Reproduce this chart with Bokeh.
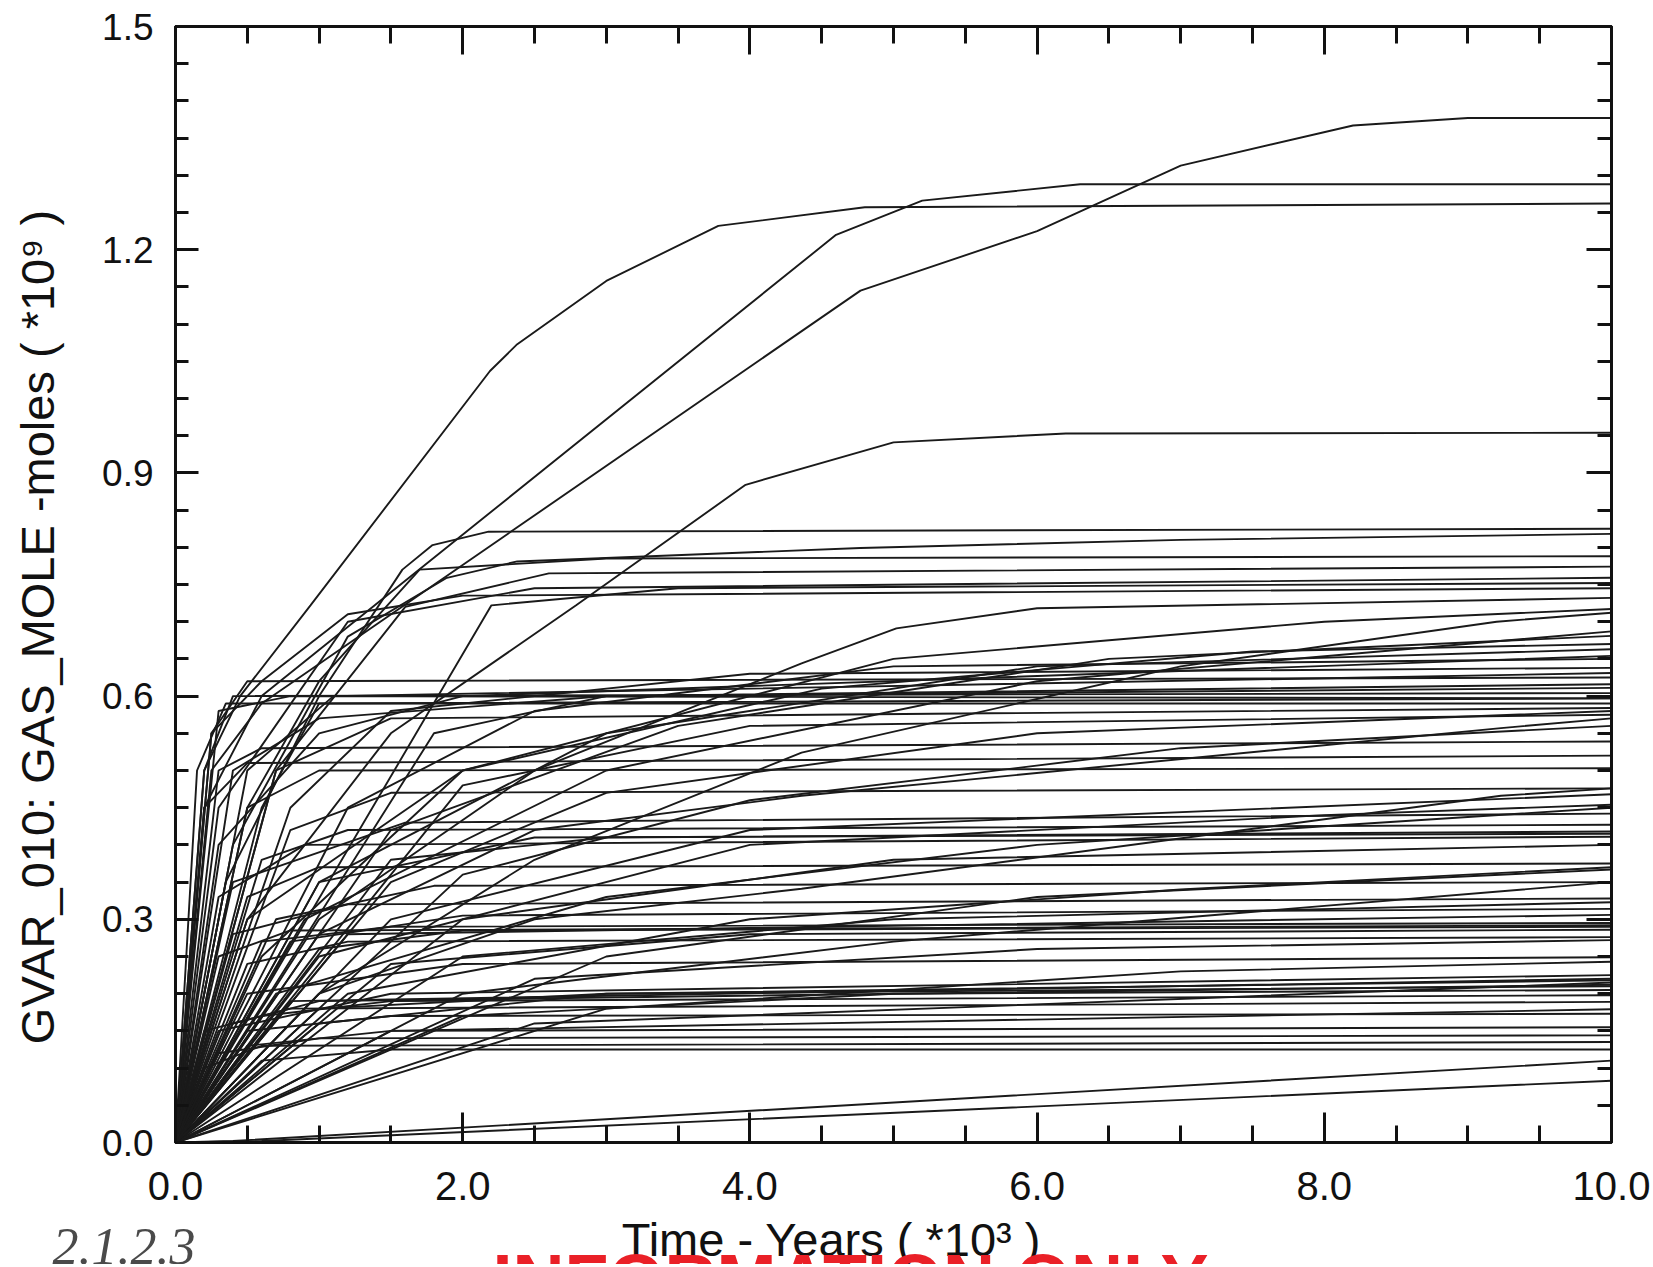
import math
from bokeh.plotting import figure
from bokeh.layouts import column
from bokeh.models import Range1d, FixedTicker, PrintfTickFormatter, LinearAxis, Label
from bokeh.embed import file_html
from bokeh.resources import INLINE

# ---- axes -----------------------------------------------------------------
x_major = [0.0, 2.0, 4.0, 6.0, 8.0, 10.0]
x_minor = [0.5, 1.0, 1.5, 2.5, 3.0, 3.5, 4.5, 5.0, 5.5, 6.5, 7.0, 7.5, 8.5, 9.0, 9.5]
y_major = [0.0, 0.3, 0.6, 0.9, 1.2, 1.5]
y_minor = [0.05, 0.10, 0.15, 0.20, 0.25, 0.35, 0.40, 0.45, 0.50, 0.55,
           0.65, 0.70, 0.75, 0.80, 0.85, 0.95, 1.00, 1.05, 1.10, 1.15,
           1.25, 1.30, 1.35, 1.40, 1.45]

x_title = "Time - Years ( *10\u00b3 )"
y_title = "GVAR_010:  GAS_MOLE -moles ( *10\u2079 )"
stamp_text = "INFORMATION ONLY"
note_text = "2.1.2.3"

# ---- runs: vertices (time in 10^3 yr, gas in 10^9 moles) -------------------
top_runs = [
    [(0, 0), (0.2, 0.5), (0.45, 0.6), (0.94, 0.722), (2.19, 1.037), (2.38, 1.073),
     (3.0, 1.158), (3.78, 1.232), (4.8, 1.257), (10, 1.262)],
    [(0, 0), (0.2, 0.45), (0.6, 0.6), (4.6, 1.22), (5.2, 1.266), (6.3, 1.288), (10, 1.288)],
    [(0, 0), (0.25, 0.5), (0.6, 0.59), (4.77, 1.145), (6.0, 1.225), (7.0, 1.313),
     (8.2, 1.367), (9.0, 1.377), (10, 1.377)],
    [(0, 0), (0.5, 0.3), (1.5, 0.55), (2.79, 0.722), (3.97, 0.884), (5.0, 0.941),
     (6.2, 0.953), (10, 0.954)],
]

upper_runs = [
    [(0, 0), (0.35, 0.35), (1.0, 0.6), (1.58, 0.77), (1.79, 0.803), (2.18, 0.821), (10, 0.825)],
    [(0, 0), (0.4, 0.4), (1.2, 0.68), (1.89, 0.759), (2.38, 0.781), (4.77, 0.799), (7.0, 0.81), (10, 0.818)],
    [(0, 0), (0.5, 0.45), (1.0, 0.62), (1.7, 0.77), (3.0, 0.785), (10, 0.788)],
    [(0, 0), (0.7, 0.5), (1.6, 0.72), (2.6, 0.765), (10, 0.774)],
    [(0, 0), (0.3, 0.45), (1.2, 0.7), (2.5, 0.745), (10, 0.759)],
    [(0, 0), (2.2, 0.722), (3.5, 0.745), (10, 0.752)],
    [(0, 0), (0.25, 0.55), (0.6, 0.62), (1.2, 0.71), (2.0, 0.735), (10, 0.745)],
    [(0, 0), (1.0, 0.3), (2.5, 0.5), (4.36, 0.644), (5.02, 0.691), (6.0, 0.718), (10, 0.732)],
    [(0, 0), (1.0, 0.2), (2.5, 0.38), (4.36, 0.524), (7.0, 0.64), (9.2, 0.70), (10, 0.712)],
    [(0, 0), (0.6, 0.25), (2.0, 0.5), (5.0, 0.65), (8.0, 0.70), (10, 0.717)],
]

mid_high_runs = [
    [(0, 0), (0.2, 0.5), (0.4, 0.6), (10, 0.604)],
    [(0, 0), (0.3, 0.58), (0.8, 0.6), (10, 0.597)],
    [(0, 0), (0.6, 0.45), (1.0, 0.59), (10, 0.597)],
    [(0, 0), (0.25, 0.55), (0.5, 0.62), (10, 0.625)],
    [(0, 0), (0.8, 0.45), (1.5, 0.58), (4.0, 0.63), (10, 0.638)],
    [(0, 0), (1.2, 0.45), (2.5, 0.58), (5.0, 0.64), (10, 0.650)],
    [(0, 0), (1.0, 0.35), (3.0, 0.55), (6.0, 0.64), (10, 0.663)],
    [(0, 0), (0.5, 0.3), (2.0, 0.5), (4.5, 0.61), (7.5, 0.66), (10, 0.670)],
    [(0, 0), (1.5, 0.42), (3.5, 0.56), (6.5, 0.65), (10, 0.681)],
    [(0, 0), (0.9, 0.3), (3.0, 0.5), (6.0, 0.62), (10, 0.687)],
    [(0, 0), (0.4, 0.5), (1.0, 0.57), (3.0, 0.6), (10, 0.611)],
    [(0, 0), (1.8, 0.55), (3.0, 0.6), (10, 0.616)],
    [(0, 0), (0.15, 0.5), (0.35, 0.59), (10, 0.590)],
    [(0, 0), (0.7, 0.5), (1.5, 0.57), (10, 0.584)],
    [(0, 0), (2.0, 0.48), (4.0, 0.56), (10, 0.575)],
    [(0, 0), (0.5, 0.5), (1.1, 0.6), (10, 0.631)],
    [(0, 0), (0.3, 0.4), (1.0, 0.55), (2.0, 0.6), (10, 0.654)],
]

mid_runs = [
    [(0, 0), (0.3, 0.5), (0.6, 0.53), (10, 0.539)],
    [(0, 0), (0.5, 0.45), (1.0, 0.5), (10, 0.503)],
    [(0, 0), (0.8, 0.42), (1.5, 0.47), (10, 0.476)],
    [(0, 0), (1.5, 0.3), (4.0, 0.42), (10, 0.468)],
    [(0, 0), (1.0, 0.25), (4.0, 0.4), (8.0, 0.44), (10, 0.454)],
    [(0, 0), (0.4, 0.35), (1.6, 0.43), (10, 0.442)],
    [(0, 0), (0.2, 0.45), (0.5, 0.51), (10, 0.52)],
    [(0, 0), (0.6, 0.38), (1.2, 0.42), (10, 0.427)],
    [(0, 0), (1.0, 0.35), (2.5, 0.41), (10, 0.415)],
    [(0, 0), (0.3, 0.33), (0.9, 0.4), (10, 0.411)],
    [(0, 0), (2.0, 0.3), (5.0, 0.38), (10, 0.400)],
    [(0, 0), (0.5, 0.33), (1.0, 0.37), (10, 0.375)],
    [(0, 0), (3.0, 0.25), (6.0, 0.33), (10, 0.367)],
    [(0, 0), (0.7, 0.3), (1.8, 0.345), (10, 0.350)],
    [(0, 0), (1.5, 0.38), (3.0, 0.41), (10, 0.418)],
    [(0, 0), (1.0, 0.28), (2.5, 0.42), (4.36, 0.466), (9.23, 0.557), (10, 0.57)],
    [(0, 0), (1.0, 0.2), (2.5, 0.3), (4.36, 0.341), (9.23, 0.466), (10, 0.476)],
    [(0, 0), (1.5, 0.35), (3.0, 0.47), (6.0, 0.55), (10, 0.58)],
    [(0, 0), (2.0, 0.36), (4.0, 0.46), (7.0, 0.53), (10, 0.56)],
    [(0, 0), (0.7, 0.2), (3.0, 0.33), (6.0, 0.4), (10, 0.45)],
]

low_mid_runs = [
    [(0, 0), (0.4, 0.28), (1.2, 0.32), (10, 0.328)],
    [(0, 0), (2.0, 0.25), (5.0, 0.3), (10, 0.323)],
    [(0, 0), (0.8, 0.27), (2.0, 0.305), (10, 0.314)],
    [(0, 0), (1.2, 0.28), (10, 0.306)],
    [(0, 0), (0.3, 0.25), (0.8, 0.285), (10, 0.292)],
    [(0, 0), (1.5, 0.24), (4.0, 0.28), (10, 0.286)],
    [(0, 0), (0.5, 0.24), (1.2, 0.27), (10, 0.276)],
    [(0, 0), (2.5, 0.22), (6.0, 0.26), (10, 0.272)],
    [(0, 0), (0.6, 0.27), (1.5, 0.29), (10, 0.295)],
    [(0, 0), (1.0, 0.26), (2.0, 0.285), (10, 0.29)],
    [(0, 0), (1.2, 0.2), (4.0, 0.3), (7.0, 0.34), (10, 0.37)],
    [(0, 0), (2.0, 0.2), (5.0, 0.27), (10, 0.35)],
]

low_runs = [
    [(0, 0), (0.5, 0.2), (2.0, 0.24), (10, 0.249)],
    [(0, 0), (3.0, 0.18), (7.0, 0.23), (10, 0.243)],
    [(0, 0), (0.3, 0.15), (1.5, 0.2), (10, 0.225)],
    [(0, 0), (1.0, 0.16), (3.0, 0.2), (10, 0.218)],
    [(0, 0), (0.4, 0.16), (1.0, 0.19), (10, 0.212)],
    [(0, 0), (2.0, 0.17), (5.0, 0.2), (10, 0.205)],
    [(0, 0), (0.6, 0.17), (1.5, 0.19), (10, 0.198)],
    [(0, 0), (0.2, 0.15), (0.8, 0.18), (10, 0.189)],
    [(0, 0), (1.5, 0.15), (10, 0.179)],
    [(0, 0), (0.5, 0.15), (1.5, 0.17), (10, 0.173)],
    [(0, 0), (1.0, 0.18), (3.0, 0.2), (10, 0.21)],
    [(0, 0), (2.5, 0.16), (10, 0.215)],
    [(0, 0), (0.8, 0.19), (10, 0.22)],
    [(0, 0), (0.3, 0.12), (1.0, 0.14), (10, 0.144)],
    [(0, 0), (0.6, 0.11), (1.5, 0.125), (10, 0.125)],
    [(0, 0), (0.5, 0.13), (1.5, 0.15), (10, 0.155)],
    [(0, 0), (0.2, 0.1), (0.6, 0.13), (10, 0.135)],
    [(0, 0), (0.4, 0.002), (10, 0.11)],
    [(0, 0), (0.6, 0.002), (10, 0.083)],
]

all_runs = top_runs + upper_runs + mid_high_runs + mid_runs + low_mid_runs + low_runs
xs = [[pt[0] for pt in run] for run in all_runs]
ys = [[pt[1] for pt in run] for run in all_runs]

FONT = "Liberation Sans"
INK = "#111111"
W, H = 1650, 1264

p = figure(width=W, height=H, output_backend="svg", toolbar_location=None,
           x_range=Range1d(0, 10), y_range=Range1d(0, 1.5),
           min_border_left=175, min_border_right=39, min_border_top=26,
           min_border_bottom=122)
p.frame_align = False
p.grid.visible = False
p.outline_line_color = INK
p.outline_line_width = 3
p.background_fill_color = "white"
p.border_fill_color = "white"

p.multi_line(xs, ys, line_color="#1a1a1a", line_width=1.9)


def style_axis(ax, ticker, tin, tmin, show_labels, size="37px", standoff=22):
    ax.ticker = ticker
    ax.formatter = PrintfTickFormatter(format="%.1f")
    ax.major_tick_in = tin
    ax.major_tick_out = 0
    ax.minor_tick_in = tmin
    ax.minor_tick_out = 0
    ax.axis_line_width = 3
    ax.axis_line_color = INK
    ax.major_tick_line_width = 3
    ax.minor_tick_line_width = 3
    ax.major_tick_line_color = INK
    ax.minor_tick_line_color = INK
    ax.major_label_text_font = FONT
    ax.major_label_text_color = INK
    ax.major_label_standoff = standoff
    if show_labels:
        ax.major_label_text_font_size = size
    else:
        ax.major_label_text_font_size = "1px"
        ax.major_label_text_alpha = 0
        ax.major_label_standoff = 0


style_axis(p.xaxis[0], FixedTicker(ticks=x_major, minor_ticks=x_minor), 30, 17, True, "40px", 29)
style_axis(p.yaxis[0], FixedTicker(ticks=y_major, minor_ticks=y_minor), 23, 13, True, "37px", 22)

top_ax = LinearAxis()
style_axis(top_ax, FixedTicker(ticks=x_major, minor_ticks=x_minor), 28, 17, False)
p.add_layout(top_ax, "above")
right_ax = LinearAxis()
style_axis(right_ax, FixedTicker(ticks=y_major, minor_ticks=y_minor), 25, 14, False)
p.add_layout(right_ax, "right")

# ---- transparent text layer over the whole page (page pixel coordinates) ---
tl = figure(width=W, height=H, output_backend="svg", toolbar_location=None,
            x_range=Range1d(0, W), y_range=Range1d(H, 0),
            min_border=0, x_axis_location=None, y_axis_location=None,
            margin=(-H, 0, 0, 0))
tl.frame_align = False
tl.grid.visible = False
tl.outline_line_color = None
tl.background_fill_alpha = 0
tl.border_fill_alpha = 0

tl.add_layout(Label(x=37, y=620, text=y_title, angle=math.pi / 2,
                    text_align="center", text_baseline="alphabetic",
                    text_font=FONT, text_font_size="47px", text_color=INK))
tl.add_layout(Label(x=831, y=1239, text=x_title,
                    text_align="center", text_baseline="alphabetic",
                    text_font=FONT, text_font_size="47px", text_color=INK))
tl.add_layout(Label(x=850, y=1279, text=stamp_text,
                    text_align="center", text_baseline="alphabetic",
                    text_font=FONT, text_font_style="bold",
                    text_font_size="72px", text_color="#ea2027"))
tl.add_layout(Label(x=52, y=1246, text=note_text,
                    text_align="left", text_baseline="alphabetic",
                    text_font="Liberation Serif", text_font_style="italic",
                    text_font_size="52px", text_color="#4a4a4a"))

page = column(p, tl, spacing=0)
open("out.html", "w").write(file_html(page, INLINE))
